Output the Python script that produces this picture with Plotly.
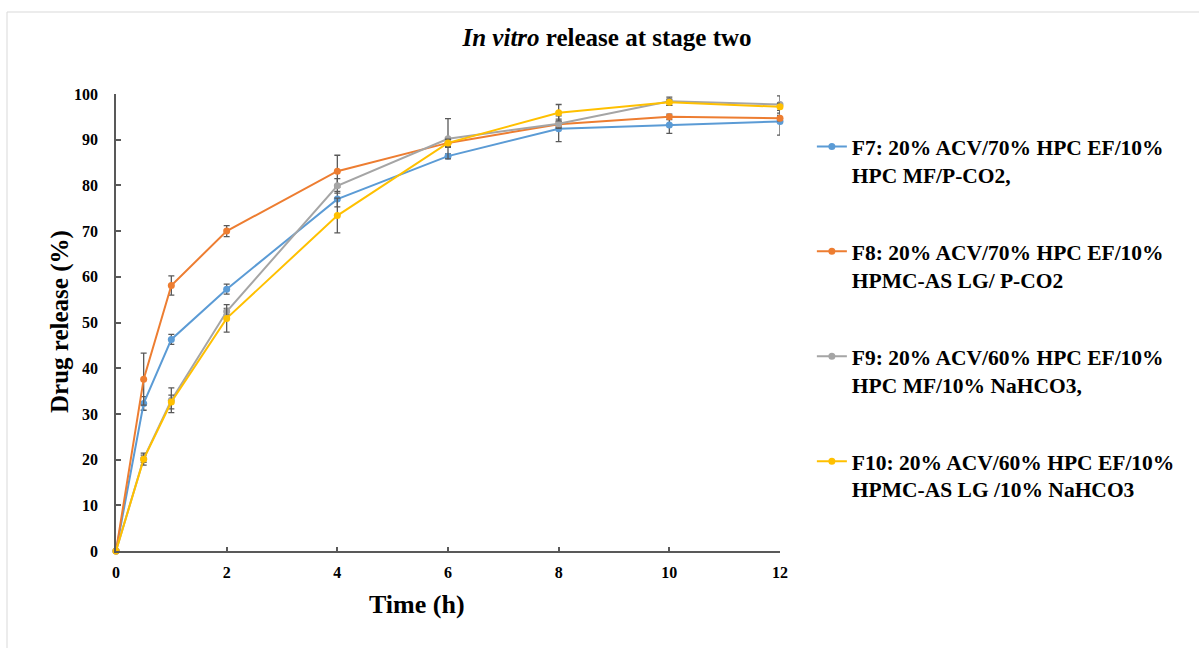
import plotly.graph_objects as go

# Sampling times (h)
time_h = [0, 0.5, 1, 2, 4, 6, 8, 10, 12]

# Mean cumulative drug release (%) per formulation
f7_release = [0, 32.3, 46.3, 57.3, 77.0, 86.4, 92.4, 93.2, 94.0]
f8_release = [0, 37.6, 58.1, 70.0, 83.1, 89.3, 93.4, 95.0, 94.7]
f9_release = [0, 20.2, 33.0, 52.4, 79.9, 90.2, 93.5, 98.4, 97.7]
f10_release = [0, 20.1, 32.6, 50.9, 73.4, 89.3, 95.9, 98.2, 97.2]

# Standard deviations (%)
f7_sd = [0, 1.5, 1.1, 1.1, 1.7, 0.5, 2.8, 1.8, 3.0]
f8_sd = [0, 5.7, 2.1, 1.2, 3.5, 1.0, 0.6, 0.6, 0.6]
f9_sd = [0, 0.8, 2.7, 0.7, 1.6, 4.4, 1.0, 0.9, 1.9]
f10_sd = [0, 1.3, 1.5, 3.0, 3.8, 0.8, 1.8, 0.7, 0.8]

x_ticks = [0, 2, 4, 6, 8, 10, 12]
y_ticks = list(range(0, 101, 10))

series_names = [
    "F7: 20% ACV/70% HPC EF/10%<br>HPC MF/P-CO2,",
    "F8: 20% ACV/70% HPC EF/10%<br>HPMC-AS LG/ P-CO2",
    "F9: 20% ACV/60% HPC EF/10%<br>HPC MF/10% NaHCO3,",
    "F10: 20% ACV/60% HPC EF/10%<br>HPMC-AS LG /10% NaHCO3",
]
series_colors = ["#5B9BD5", "#ED7D31", "#A5A5A5", "#FFC000"]
series_values = [f7_release, f8_release, f9_release, f10_release]
series_sd = [f7_sd, f8_sd, f9_sd, f10_sd]

FONT = "Liberation Serif"
AXIS_COLOR = "#595959"

fig = go.Figure()
for i, (name, color, vals, sd) in enumerate(zip(series_names, series_colors, series_values, series_sd)):
    fig.add_trace(go.Scatter(
        x=time_h, y=vals, name=f"<b>{name}</b>", mode="lines+markers",
        line=dict(color=color, width=2),
        marker=dict(color=color, size=7),
        error_y=dict(type="data", array=sd, visible=True, color=AXIS_COLOR, thickness=1.3, width=3),
        cliponaxis=False, legendgroup=f"g{i}",
    ))

fig.update_layout(
    width=1199, height=648,
    margin=dict(l=116, r=419, t=94, b=97),
    paper_bgcolor="white", plot_bgcolor="white",
    font=dict(family=FONT, color="black"),
    title=dict(
        text="<b><i>In vitro</i> release at stage two</b>",
        font=dict(family=FONT, size=25, color="black"),
        x=607 / 1199, xanchor="center", xref="container",
        y=1 - 37 / 648, yanchor="middle", yref="container",
    ),
    showlegend=True,
    legend=dict(
        x=1.048, xanchor="left", y=0.93, yanchor="top",
        font=dict(family=FONT, size=21.5, color="black"),
        tracegroupgap=46, traceorder="grouped", valign="top",
        bgcolor="rgba(0,0,0,0)",
    ),
    xaxis=dict(
        range=[0, 12], tickvals=x_ticks,
        ticktext=[f"<b>{v}</b>" for v in x_ticks],
        showgrid=False, zeroline=False,
        showline=True, linecolor=AXIS_COLOR, linewidth=1.5,
        ticks="inside", ticklen=4, tickcolor=AXIS_COLOR, tickwidth=1.5,
        ticklabelstandoff=6,
        tickfont=dict(family=FONT, size=16, color="black"),
    ),
    yaxis=dict(
        range=[0, 100], tickvals=y_ticks,
        ticktext=[f"<b>{v}</b>" for v in y_ticks],
        showgrid=False, zeroline=False,
        showline=True, linecolor=AXIS_COLOR, linewidth=1.5,
        ticks="inside", ticklen=5, tickcolor=AXIS_COLOR, tickwidth=1.5,
        ticklabelstandoff=13,
        tickfont=dict(family=FONT, size=16, color="black"),
    ),
)

# Axis titles
fig.add_annotation(
    text="<b>Time (h)</b>", xref="paper", yref="paper",
    x=(417 - 116) / 664, y=(551 - 604) / 457, xanchor="center", yanchor="middle",
    showarrow=False, font=dict(family=FONT, size=26, color="black"),
)
fig.add_annotation(
    text="<b>Drug release (%)</b>", xref="paper", yref="paper",
    x=(60 - 116) / 664, y=(551 - 322) / 457, xanchor="center", yanchor="middle",
    textangle=-90, showarrow=False, font=dict(family=FONT, size=25, color="black"),
)

# Light frame around the chart area
fig.add_shape(
    type="rect", xref="paper", yref="paper",
    x0=(7 - 116) / 664, x1=2.0, y0=-1.0, y1=(551 - 12) / 457,
    line=dict(color="#D9D9D9", width=1), fillcolor="rgba(0,0,0,0)", layer="below",
)

fig.write_html("out.html")
